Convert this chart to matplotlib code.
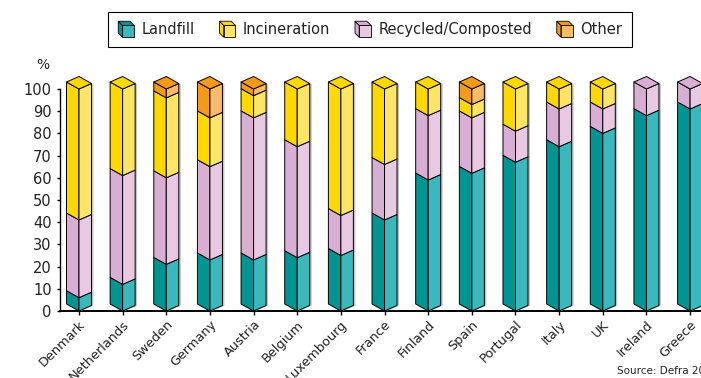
import matplotlib
matplotlib.use("Agg")
import matplotlib.pyplot as plt
from matplotlib.patches import Polygon, Patch
from matplotlib.legend_handler import HandlerBase

countries = ["Denmark", "Netherlands", "Sweden", "Germany", "Austria", "Belgium",
             "Luxembourg", "France", "Finland", "Spain", "Portugal", "Italy", "UK",
             "Ireland", "Greece"]
landfill = [6, 12, 21, 23, 23, 24, 25, 41, 59, 62, 67, 74, 80, 88, 91]
recycled = [35, 49, 39, 42, 64, 50, 18, 25, 29, 25, 14, 17, 11, 12, 9]
incineration = [59, 39, 36, 22, 10, 26, 57, 34, 12, 6, 19, 9, 9, 0, 0]
other = [0, 0, 4, 13, 3, 0, 0, 0, 0, 7, 0, 0, 0, 0, 0]
yticks = list(range(0, 101, 10))

# stacking order bottom -> top, with (dark face, light face) colours
series = [
    ("Landfill", landfill, "#009593", "#3bb8bc"),
    ("Recycled/Composted", recycled, "#d8afd2", "#e7cae2"),
    ("Incineration", incineration, "#ffd800", "#ffe566"),
    ("Other", other, "#f39a18", "#f8bb6a"),
]
legend_order = ["Landfill", "Incineration", "Recycled/Composted", "Other"]

W, H, DPI = 701, 378, 100
fig = plt.figure(figsize=(W / DPI, H / DPI), dpi=DPI)
ax_left, ax_bottom, ax_w, ax_h = 60, 67, 641, 222
ax = fig.add_axes([ax_left / W, ax_bottom / H, ax_w / W, ax_h / H])

xmin, xmax = -0.435, 14.25
ymin, ymax = 0, 100
ax.set_xlim(xmin, xmax)
ax.set_ylim(ymin, ymax)

# pixel -> data conversion for the prism geometry
px_x = ax_w / (xmax - xmin)
px_y = ax_h / (ymax - ymin)
hwL, hwR = 12.5 / px_x, 12.5 / px_x      # half widths of the two faces
liftL, liftR = 7.0 / px_y, 5.5 / px_y    # rise of the side edges
shadow = 2.0 / px_x
EDGE = dict(edgecolor="black", linewidth=0.7, joinstyle="round")

for i in range(len(countries)):
    total = sum(s[1][i] for s in series)
    # soft drop shadow to the right of each prism
    sh = [(i + shadow, 0), (i + hwR + shadow, liftR), (i + hwR + shadow, total + liftR),
          (i + shadow, total)]
    ax.add_patch(Polygon(sh, closed=True, facecolor="#c4c4c4", edgecolor="none",
                         zorder=2.8, clip_on=False))
    bottom = 0
    top_colour = None
    for name, vals, dark, light in series:
        v = vals[i]
        if v <= 0:
            continue
        b, t = bottom, bottom + v
        left_face = [(i - hwL, b + liftL), (i, b), (i, t), (i - hwL, t + liftL)]
        right_face = [(i, b), (i + hwR, b + liftR), (i + hwR, t + liftR), (i, t)]
        ax.add_patch(Polygon(left_face, closed=True, facecolor=dark, zorder=3,
                             clip_on=False, **EDGE))
        ax.add_patch(Polygon(right_face, closed=True, facecolor=light, zorder=3,
                             clip_on=False, **EDGE))
        bottom = t
        top_colour = dark
    t = bottom
    top_face = [(i, t), (i - hwL, t + liftL), (i - hwL + hwR, t + liftL + liftR),
                (i + hwR, t + liftR)]
    ax.add_patch(Polygon(top_face, closed=True, facecolor=top_colour, zorder=3,
                         clip_on=False, **EDGE))

for side in ("top", "right"):
    ax.spines[side].set_visible(False)
ax.spines["left"].set_linewidth(1.0)
ax.spines["left"].set_bounds(0, 100)
ax.spines["bottom"].set_linewidth(1.4)

ax.set_yticks(yticks)
ax.set_yticklabels([str(v) for v in yticks], fontsize=10.5, color="#222222")
ax.set_xticks(range(len(countries)))
ax.set_xticklabels(countries, rotation=45, ha="right", va="top",
                   rotation_mode="anchor", fontsize=9.3, color="#222222")
ax.tick_params(axis="y", direction="out", length=2.5, width=1.0, pad=3.5)
ax.tick_params(axis="x", direction="out", length=3, width=1.0, pad=2)

fig.text(43 / W, 1 - 65 / H, "%", ha="center", va="center", fontsize=10,
         color="#222222")
fig.text(617 / W, 1 - 371 / H, "Source: Defra 2005", ha="left", va="center",
         fontsize=7.5, color="#222222")


class CubeHandler(HandlerBase):
    def __init__(self, dark, light):
        super().__init__()
        self.dark, self.light = dark, light

    def create_artists(self, legend, orig_handle, xdescent, ydescent, width,
                       height, fontsize, trans):
        a = 8.5
        d = 3.0
        x0 = -xdescent + (width - a - d) / 2
        y0 = -ydescent + (height - a - d) / 2
        kw = dict(edgecolor="black", linewidth=0.6, transform=trans)
        left = Polygon([(x0, y0 + d), (x0 + d, y0), (x0 + d, y0 + a), (x0, y0 + a + d)],
                       facecolor=self.dark, **kw)
        topf = Polygon([(x0, y0 + a + d), (x0 + d, y0 + a), (x0 + d + a, y0 + a),
                        (x0 + a, y0 + a + d)], facecolor=self.dark, **kw)
        front = Polygon([(x0 + d, y0), (x0 + d + a, y0), (x0 + d + a, y0 + a),
                         (x0 + d, y0 + a)], facecolor=self.light, **kw)
        return [left, topf, front]


lookup = {s[0]: s for s in series}
handles, hmap = [], {}
for name in legend_order:
    _, _, dark, light = lookup[name]
    h = Patch(facecolor=light)
    handles.append(h)
    hmap[h] = CubeHandler(dark, light)

leg = fig.legend(handles, legend_order, handler_map=hmap, ncol=4, loc="upper left",
                 bbox_to_anchor=(108 / W, 1 - 12 / H), fontsize=10.5,
                 handlelength=1.1, handleheight=1.0, handletextpad=0.5,
                 columnspacing=1.7, borderpad=0.7, borderaxespad=0,
                 fancybox=False, frameon=True, edgecolor="black", framealpha=1)
leg.get_frame().set_linewidth(0.8)
for txt in leg.get_texts():
    txt.set_color("#222222")

fig.savefig("out.png", dpi=DPI)
